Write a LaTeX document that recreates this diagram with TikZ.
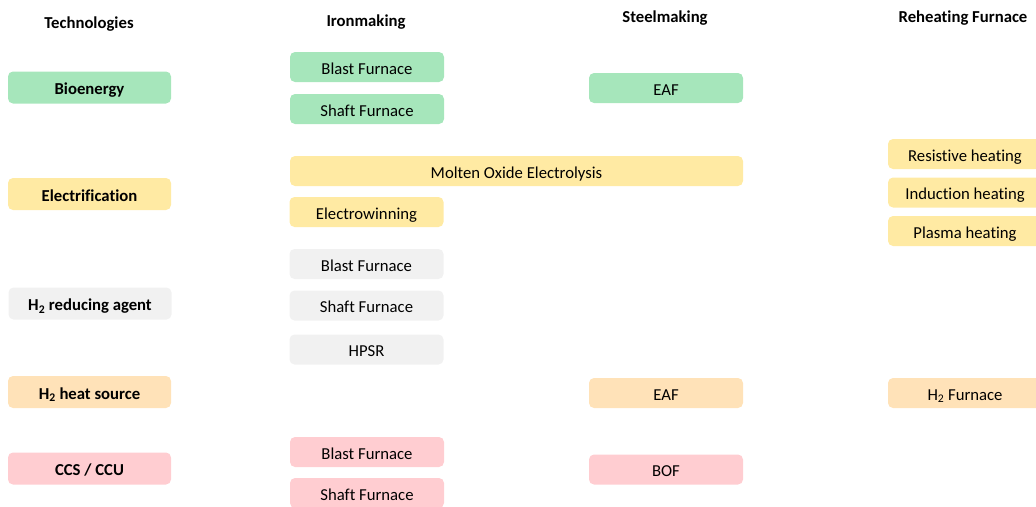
\documentclass[tikz,border=0pt]{standalone}
\usepackage{fontspec}
\setmainfont{Carlito}[Ligatures=NoCommon]
\usetikzlibrary{positioning}

\definecolor{bioclr}{RGB}{166,230,187}
\definecolor{elecclr}{RGB}{255,234,163}
\definecolor{hredclr}{RGB}{241,241,241}
\definecolor{heatclr}{RGB}{255,226,184}
\definecolor{ccsclr}{RGB}{255,205,209}

\tikzset{
  head/.style={font=\fontsize{16.7}{19}\selectfont\bfseries},
  techbox/.style={rounded corners=5pt, minimum width=163pt, minimum height=32pt, inner sep=0pt,
    text height=14pt, text depth=0pt, font=\fontsize{16.7}{19}\selectfont\bfseries},
  procbox/.style={rounded corners=5pt, minimum width=154pt, minimum height=30pt, inner sep=0pt,
    text height=14pt, text depth=0pt, font=\fontsize{16.7}{19}\selectfont}
}

\begin{document}
\begin{tikzpicture}[x=1pt,y=-1pt]
\useasboundingbox (0,0) rectangle (1036,506);
\clip (0,0) rectangle (1036,506);

% column heads
\node[head] (thead) at (89,24) {Technologies};
\node[head] (ihead) at (366,22) {Ironmaking};
\node[head] (shead) at (665,18) {Steelmaking};
\node[head] (rhead) at (963,18) {Reheating Furnace};

% technologies
\node[techbox,fill=bioclr] (bio) at (89.5,87.5) {Bioenergy};
\node[techbox,fill=elecclr] (elec) at (89.5,194) {Electrification};
\node[techbox,fill=hredclr] (hred) at (90,303.5) {H\textsubscript{2} reducing agent};
\node[techbox,fill=heatclr] (hheat) at (89.5,392) {H\textsubscript{2} heat source};
\node[techbox,fill=ccsclr] (ccs) at (89.5,468.5) {CCS / CCU};

% ironmaking
\node[procbox,fill=bioclr] (biobf) at (367,67) {Blast Furnace};
\node[procbox,fill=bioclr] (biosf) at (367,109) {Shaft Furnace};
\node[procbox,fill=elecclr,minimum width=453pt] (moe) at (516.5,171) {Molten Oxide Electrolysis};
\node[procbox,fill=elecclr] (ewin) at (366.5,212) {Electrowinning};
\node[procbox,fill=hredclr] (hbf) at (366.5,264) {Blast Furnace};
\node[procbox,fill=hredclr] (hsf) at (366.5,305.5) {Shaft Furnace};
\node[procbox,fill=hredclr] (hpsr) at (366.5,349.5) {HPSR};
\node[procbox,fill=ccsclr] (ccsbf) at (367,452) {Blast Furnace};
\node[procbox,fill=ccsclr] (ccssf) at (367,493) {Shaft Furnace};

% steelmaking
\node[procbox,fill=bioclr] (bioeaf) at (666,88) {EAF};
\node[procbox,fill=heatclr] (heaf) at (666,393) {EAF};
\node[procbox,fill=ccsclr] (bof) at (666,469.5) {BOF};

% reheating furnace
\node[procbox,fill=elecclr] (resist) at (965,154) {Resistive heating};
\node[procbox,fill=elecclr] (induct) at (965,192.5) {Induction heating};
\node[procbox,fill=elecclr] (plasma) at (965,231) {Plasma heating};
\node[procbox,fill=heatclr] (hfurn) at (965,393) {H\textsubscript{2} Furnace};

\end{tikzpicture}
\end{document}
